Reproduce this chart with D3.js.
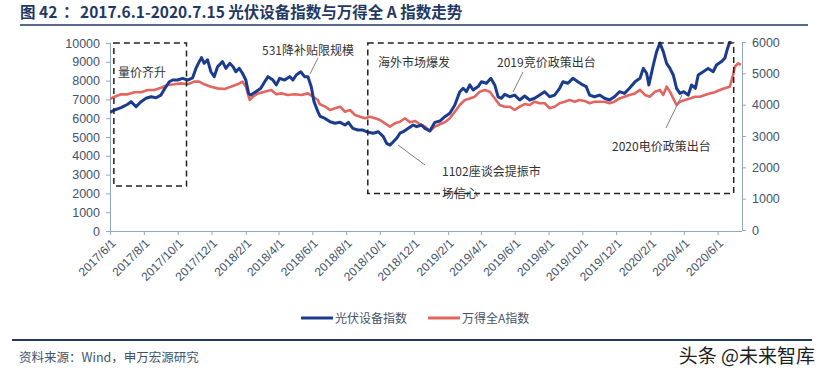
<!DOCTYPE html>
<html><head><meta charset="utf-8">
<script src="https://cdn.jsdelivr.net/npm/d3@7/dist/d3.min.js"></script>
<style>
html,body{margin:0;padding:0;background:#fff;}
svg{display:block;}
</style>
</head><body>
<svg id="chart" width="825" height="373"></svg>
<script>
const pvDates = ["2017-06-01","2017-06-09","2017-06-21","2017-07-03","2017-07-09","2017-07-18","2017-07-27","2017-08-05","2017-08-14","2017-08-23","2017-09-01","2017-09-08","2017-09-16","2017-09-22","2017-10-01","2017-10-10","2017-10-19","2017-10-28","2017-11-03","2017-11-09","2017-11-13","2017-11-18","2017-11-24","2017-11-30","2017-12-06","2017-12-12","2017-12-21","2017-12-27","2018-01-03","2018-01-09","2018-01-14","2018-01-20","2018-01-26","2018-02-01","2018-02-06","2018-02-10","2018-02-19","2018-02-28","2018-03-07","2018-03-13","2018-03-22","2018-03-28","2018-04-03","2018-04-12","2018-04-21","2018-04-27","2018-05-03","2018-05-11","2018-05-18","2018-05-24","2018-05-30","2018-06-04","2018-06-11","2018-06-15","2018-06-24","2018-07-03","2018-07-12","2018-07-21","2018-07-30","2018-08-05","2018-08-13","2018-08-22","2018-08-31","2018-09-10","2018-09-19","2018-09-28","2018-10-07","2018-10-13","2018-10-19","2018-10-25","2018-10-31","2018-11-06","2018-11-12","2018-11-21","2018-11-30","2018-12-06","2018-12-15","2018-12-21","2018-12-30","2019-01-08","2019-01-17","2019-01-26","2019-02-04","2019-02-13","2019-02-22","2019-02-28","2019-03-06","2019-03-12","2019-03-18","2019-03-27","2019-04-02","2019-04-11","2019-04-19","2019-04-26","2019-05-02","2019-05-08","2019-05-14","2019-05-23","2019-06-01","2019-06-10","2019-06-19","2019-06-28","2019-07-07","2019-07-16","2019-07-25","2019-08-03","2019-08-12","2019-08-21","2019-08-27","2019-09-05","2019-09-14","2019-09-23","2019-10-02","2019-10-08","2019-10-14","2019-10-23","2019-11-01","2019-11-10","2019-11-19","2019-11-28","2019-12-07","2019-12-16","2019-12-25","2020-01-04","2020-01-13","2020-01-19","2020-01-25","2020-01-29","2020-02-06","2020-02-12","2020-02-18","2020-02-24","2020-03-01","2020-03-07","2020-03-13","2020-03-19","2020-03-25","2020-04-01","2020-04-09","2020-04-15","2020-04-22","2020-04-27","2020-05-06","2020-05-15","2020-05-24","2020-05-30","2020-06-08","2020-06-14","2020-06-19","2020-06-23","2020-07-01","2020-07-08","2020-07-15"];
const pvValues = [6314,6436,6560,6740,6880,6610,6880,7060,7140,7090,7230,7590,7940,8030,8030,8120,8030,8150,8650,9010,9220,8920,9100,8470,8210,8740,9010,8650,8920,8740,8470,8650,8390,8030,7320,7230,7410,7590,7940,8210,8030,7770,8120,8030,8210,8030,8300,8470,8210,8210,7680,6880,6350,6100,5990,5810,5730,5780,5640,5780,5460,5370,5370,5250,5200,5280,5020,4660,4570,4750,4930,5200,5280,5460,5640,5550,5640,5460,5320,5780,5850,6080,6260,6700,7410,7590,7410,7770,7500,7680,7940,7860,8120,7770,7140,7060,7270,7140,7230,6970,7180,6970,7060,7230,7410,7140,7230,7590,7940,7860,8120,7940,7770,7680,7230,7140,7230,7060,6970,7140,7410,7320,7590,7940,8120,8650,8390,7770,8830,9540,10000,9540,8920,8650,8300,7590,7320,7410,7230,7770,7590,8300,8470,8650,8470,8830,9010,9190,9720,10050,10700,11300,11000];

const waDates = ["2017-06-01","2017-06-09","2017-06-21","2017-07-03","2017-07-15","2017-07-27","2017-08-08","2017-08-20","2017-09-01","2017-09-13","2017-09-25","2017-10-07","2017-10-19","2017-10-31","2017-11-09","2017-11-18","2017-11-30","2017-12-12","2017-12-25","2018-01-05","2018-01-17","2018-01-26","2018-02-01","2018-02-08","2018-02-14","2018-02-23","2018-03-07","2018-03-19","2018-03-28","2018-04-06","2018-04-18","2018-04-30","2018-05-12","2018-05-24","2018-06-02","2018-06-11","2018-06-14","2018-06-24","2018-07-03","2018-07-12","2018-07-21","2018-07-30","2018-08-08","2018-08-17","2018-08-26","2018-09-04","2018-09-13","2018-09-22","2018-10-01","2018-10-10","2018-10-19","2018-10-28","2018-11-06","2018-11-15","2018-11-24","2018-12-03","2018-12-12","2018-12-21","2018-12-30","2019-01-08","2019-01-17","2019-01-26","2019-02-04","2019-02-13","2019-02-22","2019-03-03","2019-03-12","2019-03-21","2019-03-30","2019-04-08","2019-04-17","2019-04-26","2019-05-05","2019-05-14","2019-05-23","2019-06-01","2019-06-10","2019-06-19","2019-06-28","2019-07-07","2019-07-16","2019-07-25","2019-08-03","2019-08-12","2019-08-21","2019-08-30","2019-09-08","2019-09-17","2019-09-26","2019-10-05","2019-10-14","2019-10-23","2019-11-01","2019-11-10","2019-11-19","2019-11-28","2019-12-07","2019-12-16","2019-12-25","2020-01-04","2020-01-13","2020-01-22","2020-01-31","2020-02-09","2020-02-18","2020-02-24","2020-03-01","2020-03-07","2020-03-13","2020-03-19","2020-03-25","2020-04-03","2020-04-12","2020-04-21","2020-04-30","2020-05-09","2020-05-18","2020-05-27","2020-06-05","2020-06-14","2020-06-23","2020-06-29","2020-07-02","2020-07-08","2020-07-13"];
const waValues = [4180,4255,4330,4330,4395,4395,4470,4470,4540,4630,4650,4680,4650,4735,4735,4650,4575,4520,4500,4575,4650,4735,4575,4150,4255,4360,4415,4470,4330,4360,4310,4330,4310,4360,4255,4150,4020,3935,3830,3885,3935,3775,3830,3670,3615,3565,3615,3565,3510,3405,3300,3405,3455,3565,3440,3480,3375,3300,3160,3300,3375,3440,3565,3775,3990,4150,4200,4255,4415,4470,4415,4200,3990,3935,3935,3830,3935,4020,3990,4095,4045,4045,3885,3935,4045,4095,4150,4095,4150,4120,4045,4095,4095,4095,4045,4095,4200,4255,4310,4360,4470,4310,4255,4415,4470,4310,4575,4415,4200,3990,4095,4150,4200,4255,4255,4310,4360,4395,4470,4525,4575,4950,5210,5320,5270];

const xTickLabels = ["2017/6/1","2017/8/1","2017/10/1","2017/12/1","2018/2/1","2018/4/1","2018/6/1","2018/8/1","2018/10/1","2018/12/1","2019/2/1","2019/4/1","2019/6/1","2019/8/1","2019/10/1","2019/12/1","2020/2/1","2020/4/1","2020/6/1"];
const leftTicks = [0,1000,2000,3000,4000,5000,6000,7000,8000,9000,10000];
const rightTicks = [0,1000,2000,3000,4000,5000,6000];
const seriesNames = ["光伏设备指数","万得全A指数"];

const parse = d3.timeParse("%Y-%m-%d");
const parseTick = d3.timeParse("%Y/%m/%d");
const svg = d3.select("#chart");
const L = 110, R = 742, T = 43, B = 231;
const x = d3.scaleTime().domain([parse("2017-06-01"), parse("2020-07-15")]).range([L, R]);
const yL = d3.scaleLinear().domain([0, 10000]).range([B, T]);
const yR = d3.scaleLinear().domain([0, 6000]).range([B - 1, T - 1]);

const BLUE = "#1b3c8e", RED = "#e2665f", AXIS = "#8fa8c6", TXT = "#44546a", NAVY = "#1f3864";
const font = "'Liberation Sans', Arial, sans-serif";
const cjk = "'Noto Sans CJK SC', 'Liberation Sans', sans-serif";

// Title
const title = svg.append("text").attr("y", 18).attr("font-family", cjk).attr("font-weight", "bold")
  .attr("font-size", 15.5).attr("fill", NAVY);
title.append("tspan").attr("x", 20).text("图 42");
title.append("tspan").attr("x", 63).text("：");
title.append("tspan").attr("x", 80).text("2017.6.1-2020.7.15 光伏设备指数与万得全 A 指数走势");
svg.append("line").attr("x1", 20).attr("x2", 808).attr("y1", 25).attr("y2", 25).attr("stroke", NAVY).attr("stroke-width", 1.5);

// Clip
svg.append("clipPath").attr("id", "plot").append("rect").attr("x", L).attr("y", T - 2).attr("width", R - L + 2).attr("height", B - T + 2);

// Axes
const xAxis = d3.axisBottom(x).tickValues(xTickLabels.map(parseTick)).tickSize(4).tickFormat((d, i) => xTickLabels[i]);
const gx = svg.append("g").attr("transform", `translate(0,${B})`).call(xAxis);
gx.select(".domain").attr("stroke", AXIS).attr("d", `M${L},0.5H${R}`);
gx.selectAll(".tick line").attr("stroke", AXIS);
gx.selectAll(".tick text").attr("font-family", font).attr("font-size", 12).attr("fill", TXT)
  .attr("text-anchor", "end").attr("x", 0).attr("y", 0).attr("dy", "0.35em")
  .attr("transform", "translate(3,10) rotate(-45)");

const gl = svg.append("g").attr("transform", `translate(${L},0)`)
  .call(d3.axisLeft(yL).tickValues(leftTicks).tickSize(4).tickPadding(6).tickFormat(d3.format("d")));
gl.select(".domain").attr("stroke", AXIS).attr("d", `M0.5,${B}V${T}`);
gl.selectAll(".tick line").attr("stroke", AXIS);
gl.selectAll(".tick text").attr("font-family", font).attr("font-size", 12.5).attr("fill", TXT);

const gr = svg.append("g").attr("transform", `translate(${R},0)`)
  .call(d3.axisRight(yR).tickValues(rightTicks).tickSize(4).tickPadding(6).tickFormat(d3.format("d")));
gr.select(".domain").attr("stroke", AXIS).attr("d", `M0.5,${B}V${T - 1}`);
gr.selectAll(".tick line").attr("stroke", AXIS);
gr.selectAll(".tick text").attr("font-family", font).attr("font-size", 12.5).attr("fill", TXT);

// Lines
const pvData = pvDates.map((d, i) => ({ d: parse(d), v: pvValues[i] }));
const waData = waDates.map((d, i) => ({ d: parse(d), v: waValues[i] }));
const plotG = svg.append("g").attr("clip-path", "url(#plot)");
plotG.append("path").datum(waData).attr("fill", "none").attr("stroke", RED).attr("stroke-width", 2.6)
  .attr("stroke-linejoin", "round").attr("d", d3.line().x(p => x(p.d)).y(p => yR(p.v)));
plotG.append("path").datum(pvData).attr("fill", "none").attr("stroke", BLUE).attr("stroke-width", 3)
  .attr("stroke-linejoin", "round").attr("d", d3.line().x(p => x(p.d)).y(p => yL(p.v)));

// Dashed boxes
const boxes = [
  { x0: "2017-06-08", x1: "2017-10-17", v0: 10000, v1: 2400 },
  { x0: "2018-09-09", x1: "2020-06-30", v0: 10000, v1: 2000 }
];
boxes.forEach(b => {
  const bx0 = x(parse(b.x0)), bx1 = x(parse(b.x1));
  svg.append("rect").attr("x", bx0).attr("y", yL(b.v0)).attr("width", bx1 - bx0).attr("height", yL(b.v1) - yL(b.v0))
    .attr("fill", "none").attr("stroke", "#222").attr("stroke-width", 1.5).attr("stroke-dasharray", "6,4");
});

// Annotations
const ann = svg.append("g").attr("font-family", cjk).attr("font-size", 12).attr("fill", "#333");
ann.append("text").attr("x", 118).attr("y", 77).text("量价齐升");
ann.append("text").attr("x", 262).attr("y", 55).text("531降补贴限规模");
ann.append("text").attr("x", 378).attr("y", 67).text("海外市场爆发");
ann.append("text").attr("x", 497).attr("y", 67).text("2019竞价政策出台");
ann.append("text").attr("x", 612).attr("y", 151).text("2020电价政策出台");
ann.append("text").attr("x", 442).attr("y", 176).text("1102座谈会提振市");
ann.append("text").attr("x", 442).attr("y", 198).text("场信心");
const leaders = [[318, 58, 310, 74], [523, 72, 513, 92], [666, 128, 682, 95], [398, 145, 425, 165]];
leaders.forEach(l => svg.append("line").attr("x1", l[0]).attr("y1", l[1]).attr("x2", l[2]).attr("y2", l[3])
  .attr("stroke", "#7f7f7f").attr("stroke-width", 1));

// Legend
const leg = svg.append("g").attr("font-family", cjk).attr("font-size", 12).attr("fill", TXT);
[[BLUE, 301, 335], [RED, 428, 462]].forEach((c, i) => {
  leg.append("line").attr("x1", c[1]).attr("x2", c[1] + 32).attr("y1", 318).attr("y2", 318).attr("stroke", c[0]).attr("stroke-width", 3);
  leg.append("text").attr("x", c[2]).attr("y", 322.5).text(seriesNames[i]);
});

// Footer
svg.append("line").attr("x1", 12).attr("x2", 812).attr("y1", 340).attr("y2", 340).attr("stroke", NAVY).attr("stroke-width", 2);
svg.append("text").attr("x", 19).attr("y", 362).attr("font-family", cjk).attr("font-size", 12.5).attr("fill", TXT)
  .text("资料来源：Wind，申万宏源研究");
svg.append("text").attr("x", 815).attr("y", 363).attr("text-anchor", "end").attr("font-family", cjk).attr("font-size", 19)
  .attr("fill", "#1e1e1e").text("头条 @未来智库");
</script>
</body></html>
